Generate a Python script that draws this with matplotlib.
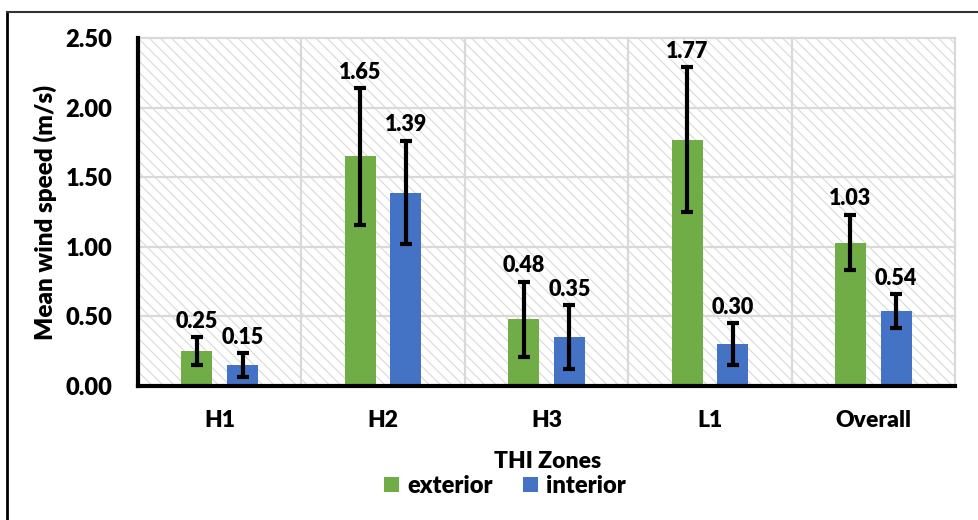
import matplotlib
matplotlib.use("Agg")
import matplotlib.pyplot as plt
import numpy as np
from matplotlib.patches import Rectangle, Patch
from matplotlib.lines import Line2D

categories = ["H1", "H2", "H3", "L1", "Overall"]
exterior = [0.25, 1.65, 0.48, 1.77, 1.03]
interior = [0.15, 1.39, 0.35, 0.30, 0.54]
exterior_err = [0.10, 0.49, 0.27, 0.52, 0.20]
interior_err = [0.085, 0.37, 0.23, 0.15, 0.12]
series_names = ["exterior", "interior"]
y_ticks = [0.0, 0.5, 1.0, 1.5, 2.0, 2.5]

GREEN = "#70AD47"
BLUE = "#4472C4"
FONT = "Lato"
WEIGHT = "heavy"

plt.rcParams["font.family"] = [FONT, "DejaVu Sans"]
plt.rcParams["hatch.linewidth"] = 0.8
plt.rcParams["hatch.color"] = "#d9d9d9"

fig = plt.figure(figsize=(9.79, 5.20), dpi=100)
ax = fig.add_axes([138 / 979, 1 - 386 / 520, (955 - 138) / 979, (386 - 38) / 520])

x = np.arange(len(categories))
w = 0.19
off = 0.14

# hatched background
bg = Rectangle((0, 0), 1, 1, transform=ax.transAxes, facecolor="white",
               edgecolor="#d9d9d9", hatch="\\\\\\", linewidth=0, zorder=0)
ax.add_patch(bg)

ax.set_xlim(-0.5, len(categories) - 0.5)
ax.set_ylim(0, 2.5)

# gridlines
for yv in y_ticks[1:]:
    ax.axhline(yv, color="#d9d9d9", lw=1.6, zorder=1, clip_on=False)
for xv in np.arange(0.5, len(categories), 1.0):
    ax.axvline(xv, color="#d9d9d9", lw=1.6, zorder=1, clip_on=False)

err_kw = dict(ecolor="black", elinewidth=3, capsize=4.5, capthick=3)
ax.bar(x - off, exterior, w, color=GREEN, yerr=exterior_err, error_kw=err_kw, zorder=2, label=series_names[0])
ax.bar(x + off, interior, w, color=BLUE, yerr=interior_err, error_kw=err_kw, zorder=2, label=series_names[1])

for xi, v, e in zip(x - off, exterior, exterior_err):
    ax.annotate(f"{v:.2f}", (xi, v + e), xytext=(0, 4), textcoords="offset points",
                ha="center", va="bottom", fontsize=15.5, fontweight=WEIGHT, zorder=4)
for xi, v, e in zip(x + off, interior, interior_err):
    ax.annotate(f"{v:.2f}", (xi, v + e), xytext=(0, 4), textcoords="offset points",
                ha="center", va="bottom", fontsize=15.5, fontweight=WEIGHT, zorder=4)

ax.set_xticks(x)
ax.set_xticklabels(categories, fontsize=16.5, fontweight=WEIGHT)
ax.set_yticks(y_ticks)
ax.set_yticklabels([f"{t:.2f}" for t in y_ticks], fontsize=17, fontweight=WEIGHT)
ax.tick_params(axis="both", length=0)
ax.tick_params(axis="y", pad=18.5)
ax.tick_params(axis="x", pad=17)

for s in ["top", "right"]:
    ax.spines[s].set_visible(False)
ax.spines["left"].set_linewidth(3)
ax.spines["bottom"].set_linewidth(3)
ax.spines["left"].set_zorder(5)
ax.spines["bottom"].set_zorder(5)

fig.text(45 / 979, 1 - 212 / 520, "Mean wind speed (m/s)", rotation=90, ha="center", va="center",
         fontsize=17.5, fontweight=WEIGHT)

fig.text(548 / 979, 1 - 462 / 520, "THI Zones", ha="center", va="center", fontsize=16.5, fontweight=WEIGHT)

handles = [Patch(facecolor=GREEN), Patch(facecolor=BLUE)]
fig.legend(handles, series_names, loc="center", bbox_to_anchor=(505 / 979, 1 - 486 / 520),
           ncol=2, frameon=False, prop={"size": 17, "weight": WEIGHT},
           handlelength=0.62, handleheight=0.62, handletextpad=0.35, columnspacing=1.3,
           borderpad=0, borderaxespad=0)

# figure border (left and top)
fig.add_artist(Line2D([7 / 979, 7 / 979], [0, 1 - 12 / 520], color="black", lw=2, transform=fig.transFigure))
fig.add_artist(Line2D([7 / 979, 1], [1 - 12 / 520, 1 - 12 / 520], color="#333333", lw=1.5, transform=fig.transFigure))

fig.savefig("out.png", dpi=100)
